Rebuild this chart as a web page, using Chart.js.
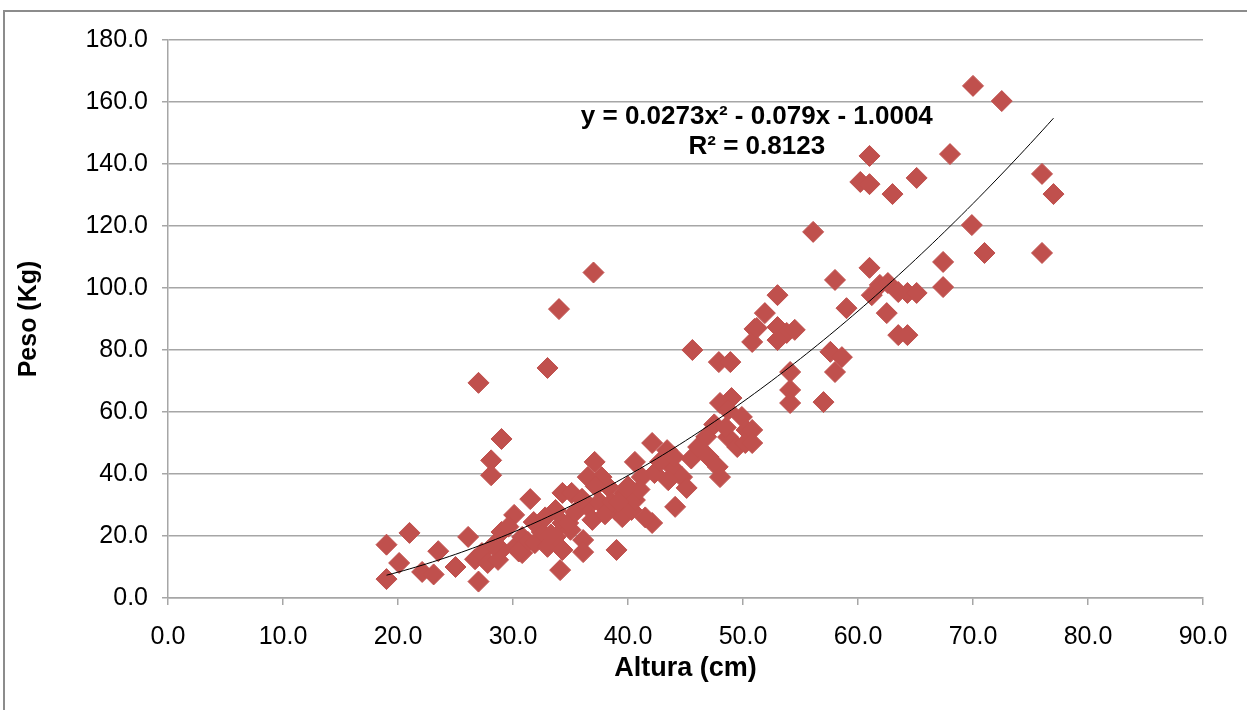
<!DOCTYPE html>
<html>
<head>
<meta charset="utf-8">
<title>Peso vs Altura</title>
<script src="https://cdn.jsdelivr.net/npm/chart.js@4/dist/chart.umd.min.js"></script>
<style>
  html, body { margin: 0; padding: 0; background: #fff; }
  #wrap { position: relative; width: 1247px; height: 710px; }
</style>
</head>
<body>
<div id="wrap"><canvas id="chart"></canvas></div>
<script>
// measured height (cm) and weight (kg) pairs
const altura = [
  19.0, 19.0, 20.1, 21.0, 22.1, 23.1, 23.5, 25.0, 26.1, 26.7, 27.0, 27.3, 27.8, 27.0, 28.1, 28.1,
  29.0, 28.7, 29.0, 29.0, 30.1, 30.2, 30.8, 30.8, 31.3, 31.5, 31.9, 32.5, 33.0, 33.0, 33.7, 34.0,
  34.1, 34.3, 34.3, 34.3, 33.7, 28.3, 29.6, 31.8, 32.8, 33.3, 35.0, 30.5,
  34.8, 35.1, 35.4, 36.1, 36.1, 36.5, 36.9, 36.5, 37.1, 37.0, 37.7, 38.3, 38.9, 39.0, 39.5, 39.7,
  40.3, 40.6, 40.6, 41.2, 42.1, 42.1, 42.3, 43.4, 43.8, 44.1, 44.7, 45.1, 45.6,
  37.5, 38.0, 36.0, 37.2, 38.6, 41.0, 42.8, 43.5, 45.5, 44.0, 40.0, 39.2, 41.5,
  46.1, 47.0, 47.8, 48.0, 48.7, 49.5, 50.2, 46.8, 47.5, 48.5, 48.0, 49.0, 48.7, 49.9, 50.3, 50.8,
  50.8, 47.9, 48.9, 50.8, 51.0, 51.9, 51.2, 53.0, 53.8, 54.5, 53.0, 53.0,
  54.1, 54.1, 54.1, 57.0, 57.6, 58.6, 58.0, 56.1, 58.0, 59.0,
  61.0, 61.2, 61.9, 62.6, 63.5, 64.3, 65.1, 62.5, 63.5, 64.3, 67.4, 67.4,
  60.2, 61.0, 61.0, 63.0, 65.1, 68.0, 70.0, 72.5, 76.0, 77.0, 69.9, 71.0, 76.0
];
const peso = [
  17.2, 6.1, 11.3, 21.0, 8.4, 7.6, 15.1, 10.0, 19.7, 12.5, 5.3, 14.5, 11.3, 69.4, 44.4, 39.6,
  51.3, 12.3, 15.5, 21.3, 26.8, 16.5, 14.5, 19.7, 18.1, 31.9, 17.7, 21.3, 16.5, 74.2, 19.7, 93.2,
  9.0, 24.2, 15.5, 33.9, 28.4, 17.0, 23.0, 24.5, 26.0, 20.5, 22.0, 15.0,
  24.2, 33.9, 27.7, 18.7, 14.8, 29.4, 25.2, 39.0, 43.9, 105.0, 39.0, 35.8, 28.4, 15.5, 26.1, 33.9,
  28.4, 31.6, 43.9, 39.0, 50.0, 24.2, 40.3, 47.7, 42.3, 29.4, 39.0, 35.5, 80.0,
  31.0, 27.0, 32.0, 36.0, 31.0, 35.0, 44.0, 38.0, 45.0, 45.5, 36.0, 31.0, 26.0,
  48.7, 45.5, 42.3, 39.0, 51.9, 48.7, 50.0, 52.0, 56.0, 55.0, 62.9, 64.5, 60.6, 58.4, 54.2, 54.2,
  50.0, 76.1, 76.1, 82.6, 86.8, 91.9, 87.1, 87.4, 85.5, 86.5, 83.2, 97.7,
  72.9, 67.1, 62.9, 63.2, 79.4, 77.7, 72.9, 118.1, 102.6, 93.5,
  106.5, 97.7, 101.0, 101.6, 98.7, 98.4, 98.4, 91.9, 84.8, 84.8, 108.4, 100.3,
  134.2, 133.5, 142.6, 130.3, 135.5, 143.2, 165.2, 160.3, 136.8, 130.3, 120.3, 111.3, 111.3
];

// polynomial trend (order 2): a*x^2 + b*x + c
const trendCoef = [0.0273, -0.079, -1.0004];
const trendR2 = 0.8123;

const xTicks = [0, 10, 20, 30, 40, 50, 60, 70, 80, 90];
const yTicks = [0, 20, 40, 60, 80, 100, 120, 140, 160, 180];

const FONT = '"Liberation Sans", Arial, sans-serif';
const GRID = '#a6a6a6';

const points = altura.map((a, i) => ({ x: a, y: peso[i] }));

const xMin = Math.min(...altura), xMax = Math.max(...altura);
const trend = [];
for (let x = xMin; x <= xMax + 1e-9; x += 0.5) {
  trend.push({ x: x, y: trendCoef[0] * x * x + trendCoef[1] * x + trendCoef[2] });
}

// white page plus the outer chart frame
const frame = {
  id: 'frame',
  beforeDraw(chart) {
    const ctx = chart.ctx;
    ctx.save();
    ctx.fillStyle = '#fff';
    ctx.fillRect(0, 0, chart.width, chart.height);
    ctx.strokeStyle = '#8c8c8c';
    ctx.lineWidth = 2;
    ctx.strokeRect(4, 11, chart.width + 10, chart.height + 10);
    ctx.restore();
  }
};

// trendline equation label
const equation = {
  id: 'equation',
  afterDatasetsDraw(chart) {
    const ctx = chart.ctx;
    const xs = chart.scales.x, ys = chart.scales.y;
    const cx = xs.getPixelForValue(51.2);
    const fmt = v => (v < 0 ? ' - ' : ' + ') + Math.abs(v);
    const line1 = 'y = ' + trendCoef[0] + 'x\u00b2' + fmt(trendCoef[1]) + 'x' + fmt(trendCoef[2]);
    const line2 = 'R\u00b2 = ' + trendR2.toFixed(4);
    ctx.save();
    ctx.font = 'bold 26px ' + FONT;
    ctx.fillStyle = '#000';
    ctx.textAlign = 'center';
    ctx.textBaseline = 'middle';
    ctx.fillText(line1, cx, ys.getPixelForValue(155.3));
    ctx.fillText(line2, cx, ys.getPixelForValue(145.6));
    ctx.restore();
  }
};

new Chart(document.getElementById('chart'), {
  type: 'scatter',
  data: {
    datasets: [
      {
        type: 'line',
        data: trend,
        borderColor: '#000',
        borderWidth: 1,
        pointRadius: 0,
        fill: false,
        order: 0
      },
      {
        data: points,
        pointStyle: 'rectRot',
        pointRadius: 10.5,
        pointBackgroundColor: '#c0504d',
        pointBorderColor: '#c0504d',
        pointBorderWidth: 1,
        order: 1
      }
    ]
  },
  options: {
    responsive: true,
    maintainAspectRatio: false,
    animation: false,
    layout: { padding: { top: 40, right: 44, left: 0, bottom: 0 } },
    plugins: {
      legend: { display: false },
      tooltip: { enabled: false }
    },
    scales: {
      x: {
        type: 'linear',
        min: 0,
        max: 90,
        afterBuildTicks: s => { s.ticks = xTicks.map(v => ({ value: v })); },
        afterFit: s => { s.height = 112; },
        grid: { drawOnChartArea: false, drawTicks: true, tickLength: 7, color: GRID, lineWidth: 1.5 },
        border: { color: GRID, width: 1.5 },
        ticks: {
          padding: 17,
          color: '#000',
          font: { family: FONT, size: 25 },
          callback: v => v.toFixed(1)
        },
        title: {
          display: true,
          text: 'Altura (cm)',
          color: '#000',
          font: { family: FONT, size: 27, weight: 'bold' },
          padding: { top: 0, bottom: 25 }
        }
      },
      y: {
        min: 0,
        max: 180,
        afterBuildTicks: s => { s.ticks = yTicks.map(v => ({ value: v })); },
        afterFit: s => { s.width = 168; },
        grid: { color: GRID, lineWidth: 1.5, tickLength: 6 },
        border: { color: GRID, width: 1.5 },
        ticks: {
          padding: 14,
          color: '#000',
          font: { family: FONT, size: 25 },
          callback: v => v.toFixed(1)
        },
        title: {
          display: true,
          text: 'Peso (Kg)',
          color: '#000',
          font: { family: FONT, size: 25, weight: 'bold' },
          padding: { top: 14, bottom: 0 }
        }
      }
    }
  },
  plugins: [frame, equation]
});
</script>
</body>
</html>
